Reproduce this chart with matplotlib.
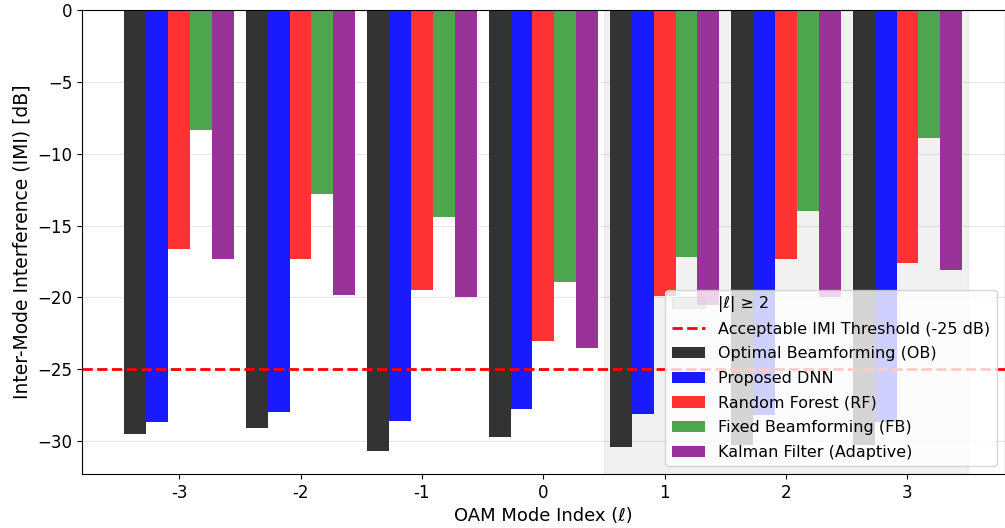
import matplotlib
matplotlib.use("Agg")
import matplotlib.pyplot as plt
import numpy as np

modes = [-3, -2, -1, 0, 1, 2, 3]
methods = [
    "Optimal Beamforming (OB)",
    "Proposed DNN",
    "Random Forest (RF)",
    "Fixed Beamforming (FB)",
    "Kalman Filter (Adaptive)",
]
imi_ob = [-29.5, -29.1, -30.7, -29.7, -30.4, -30.3, -30.3]
imi_dnn = [-28.7, -28.0, -28.6, -27.8, -28.1, -28.2, -28.7]
imi_rf = [-16.6, -17.3, -19.5, -23.0, -19.9, -17.3, -17.6]
imi_fb = [-8.35, -12.8, -14.4, -18.9, -17.2, -14.0, -8.9]
imi_kf = [-17.3, -19.85, -20.0, -23.5, -20.5, -20.0, -18.1]
threshold = -25

colors = ["#333333", "#1a1aff", "#ff3333", "#4da64d", "#993399"]
series = [imi_ob, imi_dnn, imi_rf, imi_fb, imi_kf]

fig = plt.figure(figsize=(10.05, 5.28), dpi=100)
ax = fig.add_axes([0.0816, 0.102, 0.918, 0.879])

x = np.arange(len(modes))
width = 0.18

# shaded region for the high-order modes
ax.axvspan(3.5, 6.5, color="lightgray", alpha=0.3, zorder=0, label="|ℓ| ≥ 2")
ax.axhline(threshold, color="red", linestyle="--", linewidth=2, zorder=3,
           label="Acceptable IMI Threshold (-25 dB)")

for i, (vals, name) in enumerate(zip(series, methods)):
    ax.bar(x + (i - 2) * width, vals, width, color=colors[i], label=name, zorder=2)

ax.set_xlim(-0.8, 6.8)
ax.set_ylim(-32.3, 0)
ax.set_xticks(x)
ax.set_xticklabels([str(m) for m in modes], fontsize=12)
ax.tick_params(axis="y", labelsize=12)
ax.set_xlabel("OAM Mode Index (ℓ)", fontsize=13)
ax.set_ylabel("Inter-Mode Interference (IMI) [dB]", fontsize=13.5)
ax.grid(axis="y", alpha=0.3, zorder=1)
ax.set_axisbelow(True)
ax.legend(loc="lower right", fontsize=11.5, handlelength=2.1, handletextpad=0.8,
          labelspacing=0.6, borderaxespad=0.5)

fig.savefig("out.png", dpi=100)
